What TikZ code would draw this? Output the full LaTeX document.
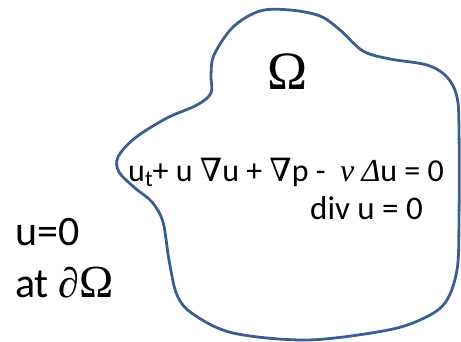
\documentclass[tikz,border=0pt]{standalone}
\usepackage{fontspec}
\setmainfont{Carlito}
\newfontfamily\serif{Liberation Serif}
\newfontfamily\nablafont{DejaVu Serif}
\newcommand{\nb}{{\nablafont ∇}}
\definecolor{blobblue}{RGB}{60,95,145}
\begin{document}
\begin{tikzpicture}[x=1pt,y=-1pt,
  blob/.style={draw=blobblue,line width=2.8pt},
  lbl/.style={inner sep=0pt,anchor=base west}]
\useasboundingbox (0,0) rectangle (461,342);
\draw[blob] plot[smooth cycle,tension=0.55] coordinates {
 (233,27) (260,11) (290,10) (320,16) (340,30) (363,51) (390,59) (427,65)
 (447,77) (457,97) (459,130) (459,220) (457,270) (445,303) (420,320)
 (383,331) (307,340) (233,333) (193,314) (177,295) (169,260) (163,222)
 (152,202) (135,188) (119,172) (118,157) (135,138) (167,118) (197,105)
 (211,93) (211,75) (214,55)};
\node[inner sep=0pt] (omega) at (288,72) {\fontsize{54}{60}\selectfont\serif Ω};
\node[lbl] (eq1) at (128,182) {\fontsize{32}{38}\selectfont u\raisebox{-0.3ex}{\fontsize{23}{26}\selectfont t}+ u \nb u + \nb p -\ \ {\serif\itshape ν} {\serif\itshape Δ}u = 0};
\node[lbl] (eq2) at (310,220) {\fontsize{33}{38}\selectfont div u = 0};
\node[lbl] (bc1) at (15,245) {\fontsize{42}{46}\selectfont u=0};
\node[lbl] (bc2) at (15,298) {\fontsize{42}{46}\selectfont at {\serif\itshape ∂}{\serif\fontsize{46}{46}\selectfont Ω}};
\end{tikzpicture}
\end{document}
